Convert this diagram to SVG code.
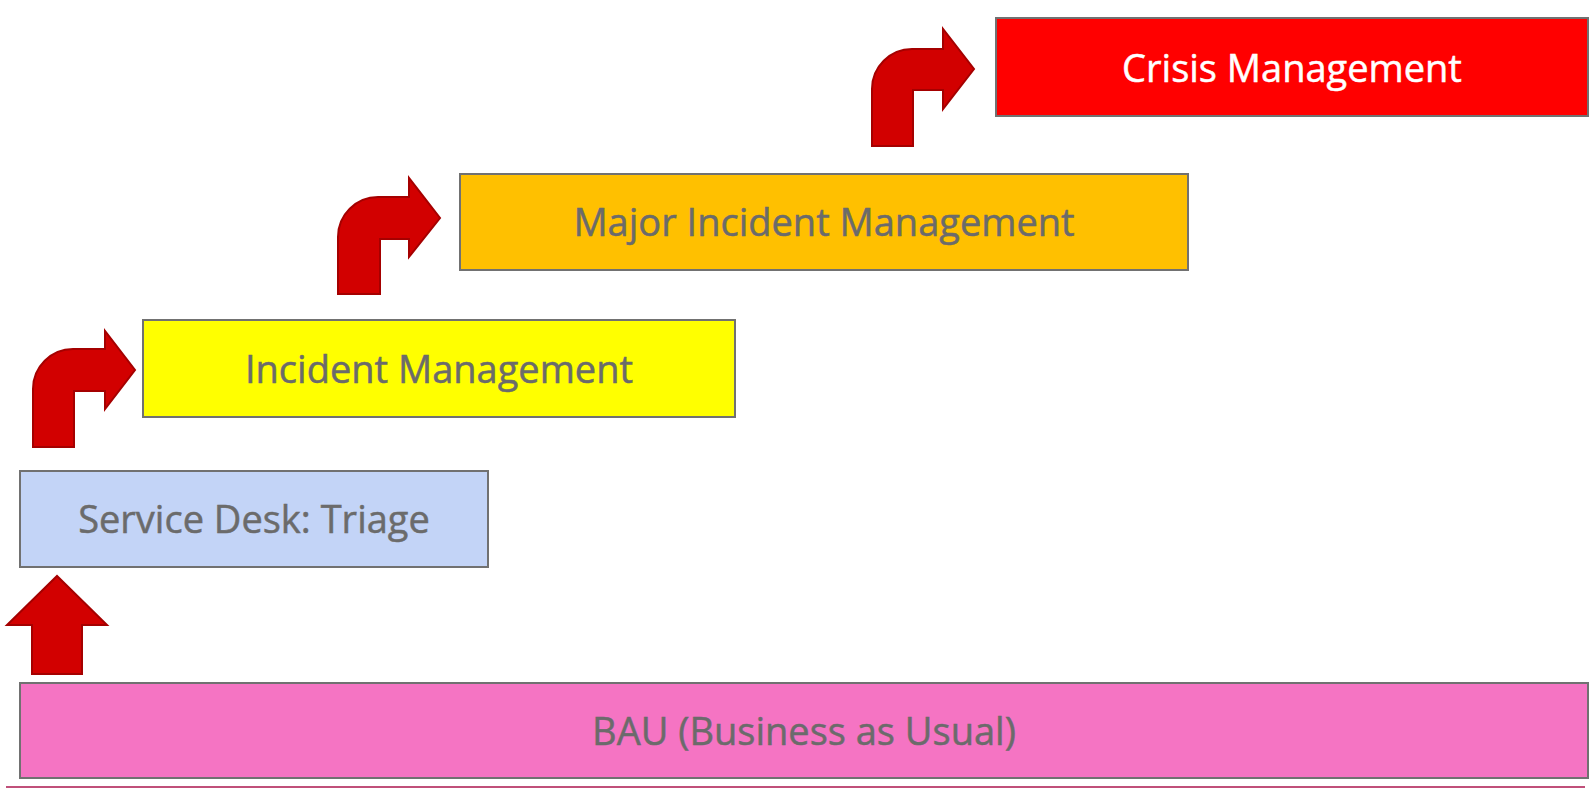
<svg xmlns="http://www.w3.org/2000/svg" width="1594" height="788" viewBox="0 0 1594 788">
<style>
.box{stroke:#717171;stroke-width:2}
.lbl{font-family:"Open Sans","Liberation Sans",sans-serif;font-size:38px;fill:#6b6b6b;stroke:#6b6b6b;stroke-width:0.5;text-anchor:middle}
.arr{fill:#d20000;stroke:#a50000;stroke-width:2;stroke-linejoin:miter}
</style>
<rect width="1594" height="788" fill="#ffffff"/>
<line x1="6" y1="787" x2="1585" y2="787" stroke="#c0507a" stroke-width="2"/>
<g id="bau">
<rect class="box" x="20" y="683" width="1568" height="95" fill="#f574c3"/>
<text class="lbl" x="804" y="745">BAU (Business as Usual)</text>
</g>
<g id="service-desk">
<rect class="box" x="20" y="471" width="468" height="96" fill="#c3d4f7"/>
<text class="lbl" x="254" y="533">Service Desk: Triage</text>
</g>
<g id="incident">
<rect class="box" x="143" y="320" width="592" height="97" fill="#ffff00"/>
<text class="lbl" x="439" y="383">Incident Management</text>
</g>
<g id="major">
<rect class="box" x="460" y="174" width="728" height="96" fill="#ffc000"/>
<text class="lbl" x="824" y="236">Major Incident Management</text>
</g>
<g id="crisis">
<rect class="box" x="996" y="18" width="592" height="98" fill="#ff0000"/>
<text class="lbl" x="1292" y="82" style="fill:#ffffff;stroke:#ffffff">Crisis Management</text>
</g>
<g id="connectors">
<path class="arr" d="M32 674 V625 H7 L57 576 L107 625 H82 V674 Z"/>
<path class="arr" d="M33 447 V389 A40 40 0 0 1 73 349 H105 V331 L135 370 L105 409 V391 H74 V447 Z"/>
<path class="arr" d="M338 294 V237 A40 40 0 0 1 378 197 H409 V178 L440 218 L409 257 V239 H380 V294 Z"/>
<path class="arr" d="M872 146 V89 A40 40 0 0 1 912 49 H943 V29 L974 69 L943 109 V90 H913 V146 Z"/>
</g>
</svg>
